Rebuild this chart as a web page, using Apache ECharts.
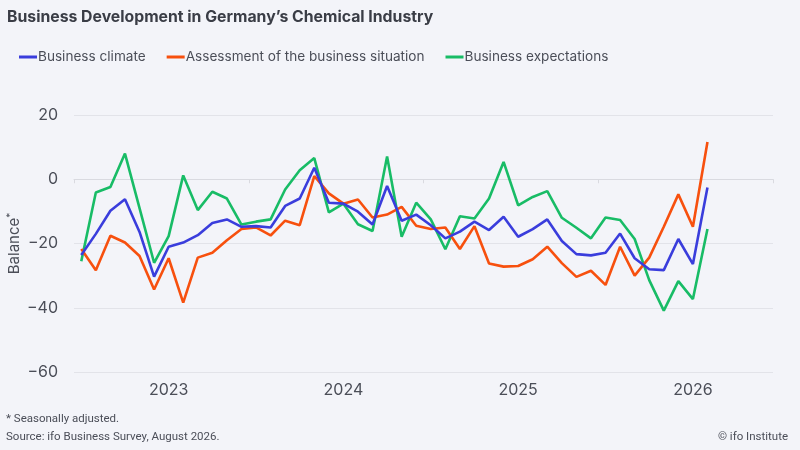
<!DOCTYPE html>
<html>
<head>
<meta charset="utf-8">
<script src="https://cdn.jsdelivr.net/npm/echarts@6/dist/echarts.min.js"></script>
<style>
html,body{margin:0;padding:0;background:#f3f4f9;}
#c{width:800px;height:450px;}
</style>
</head>
<body>
<div id="c"></div>
<script>
const years = ['2023', '2024', '2025', '2026'];
const months = ['01','02','03','04','05','06','07','08','09','10','11','12'];
const seriesNames = ['Business climate', 'Assessment of the business situation', 'Business expectations'];
const climate = [-23.6, -17, -9.8, -6.2, -16.4, -30.3, -21.0, -19.7, -17.4, -13.6, -12.5, -14.8,
  -14.6, -15.0, -8.3, -6.0, 3.6, -7.3, -7.6, -10.1, -14.1, -2.1, -12.9, -11.0,
  -14.3, -18.4, -16.3, -13.2, -15.8, -11.7, -17.9, -15.5, -12.5, -19.2, -23.3, -23.7,
  -22.9, -16.9, -24.6, -28.0, -28.3, -18.6, -26.4, -2.6];
const situation = [-21.7, -28.3, -17.6, -19.7, -23.9, -34.3, -24.6, -38.4, -24.4, -22.9, -19.0, -15.5,
  -15.0, -17.5, -12.9, -14.3, 1.0, -4.4, -7.6, -6.3, -11.9, -11.0, -8.6, -14.5,
  -15.5, -15.0, -21.7, -14.6, -26.2, -27.2, -27.0, -24.9, -21.0, -26.1, -30.4, -28.5,
  -32.9, -21.0, -30.0, -24.4, -14.8, -4.7, -14.8, 11.6];
const expectations = [-25.5, -4.1, -2.4, 8.0, -9.0, -26.0, -17.7, 1.2, -9.6, -3.9, -6.0, -14.1,
  -13.2, -12.5, -3.2, 2.8, 6.6, -10.3, -7.6, -14.0, -16.1, 7.1, -17.9, -7.3,
  -12.5, -21.8, -11.5, -12.2, -6.0, 5.4, -8.1, -5.5, -3.7, -12.0, -15.1, -18.4,
  -11.9, -12.7, -18.6, -31.4, -40.9, -31.7, -37.3, -15.5];
const yTicks = [-60, -40, -20, 0, 20];

const categories = [];
years.forEach(y => months.forEach(m => categories.push(y + '-' + m)));

const colors = ['#3a3ddc', '#f7500e', '#18bc66'];
const textColor = '#4b4e58';
const font = 'Inter, "Noto Sans", sans-serif';

const chart = echarts.init(document.getElementById('c'), null, {renderer: 'canvas'});
chart.setOption({
  backgroundColor: '#f3f4f9',
  animation: false,
  color: colors,
  title: {
    text: 'Business Development in Germany\u2019s Chemical Industry',
    left: 2, top: 4,
    textStyle: {fontFamily: font, fontSize: 15.8, fontWeight: 'bold', color: '#3a3d46'}
  },
  legend: {
    left: 14, top: 45,
    itemWidth: 18, itemHeight: 3, itemGap: 21,
    icon: 'rect',
    textStyle: {fontFamily: font, fontSize: 13.6, color: textColor, padding: [0, 0, 0, -4]},
    data: seriesNames
  },
  grid: {left: 74, right: 27, top: 115, bottom: 78, containLabel: false, outerBoundsMode: 'none'},
  xAxis: {
    type: 'category',
    data: categories,
    boundaryGap: true,
    axisLine: {show: true, lineStyle: {color: '#d9dae0', width: 1}},
    axisTick: {show: true, length: 4, lineStyle: {color: '#d9dae0'},
      interval: (i) => i % 12 === 0},
    axisLabel: {
      fontFamily: font, fontSize: 16, color: textColor, margin: 10,
      interval: (i) => i % 12 === 6,
      formatter: (v) => v.slice(0, 4)
    },
    splitLine: {show: false}
  },
  yAxis: {
    type: 'value',
    min: yTicks[0], max: yTicks[yTicks.length - 1], interval: 20,
    name: '{a|Balance}{b|*}',
    nameLocation: 'middle',
    nameGap: 52,
    nameMoveOverlap: false,
    nameRotate: 90,
    nameTextStyle: {
      rich: {
        a: {fontFamily: font, fontSize: 15, color: textColor},
        b: {fontFamily: font, fontSize: 10, color: textColor, verticalAlign: 'top', padding: [0, 0, 6, 0]}
      }
    },
    axisLine: {show: false},
    axisTick: {show: false},
    axisLabel: {fontFamily: font, fontSize: 16, color: textColor, margin: 16,
      formatter: (v) => (v < 0 ? '\u2212' + Math.abs(v) : String(v))},
    splitLine: {lineStyle: {color: '#e2e3e9', width: 1.2}}
  },
  series: [
    {name: seriesNames[0], type: 'line', data: climate, showSymbol: false, lineStyle: {width: 2.6}, z: 3},
    {name: seriesNames[1], type: 'line', data: situation, showSymbol: false, lineStyle: {width: 2.6}, z: 2},
    {name: seriesNames[2], type: 'line', data: expectations, showSymbol: false, lineStyle: {width: 2.6}, z: 1}
  ],
  graphic: [
    {type: 'text', left: 6, top: 413, style: {text: '* Seasonally adjusted.', font: '11.5px "Liberation Sans Narrow", "Roboto", sans-serif', fill: textColor}},
    {type: 'text', left: 6, top: 431, style: {text: 'Source: ifo Business Survey, August 2026.', font: '11.5px "Liberation Sans Narrow", "Roboto", sans-serif', fill: textColor}},
    {type: 'text', right: 12, top: 431, style: {text: '\u00a9 ifo Institute', font: '11.5px "Liberation Sans Narrow", "Roboto", sans-serif', fill: textColor}}
  ]
});
</script>
</body>
</html>
